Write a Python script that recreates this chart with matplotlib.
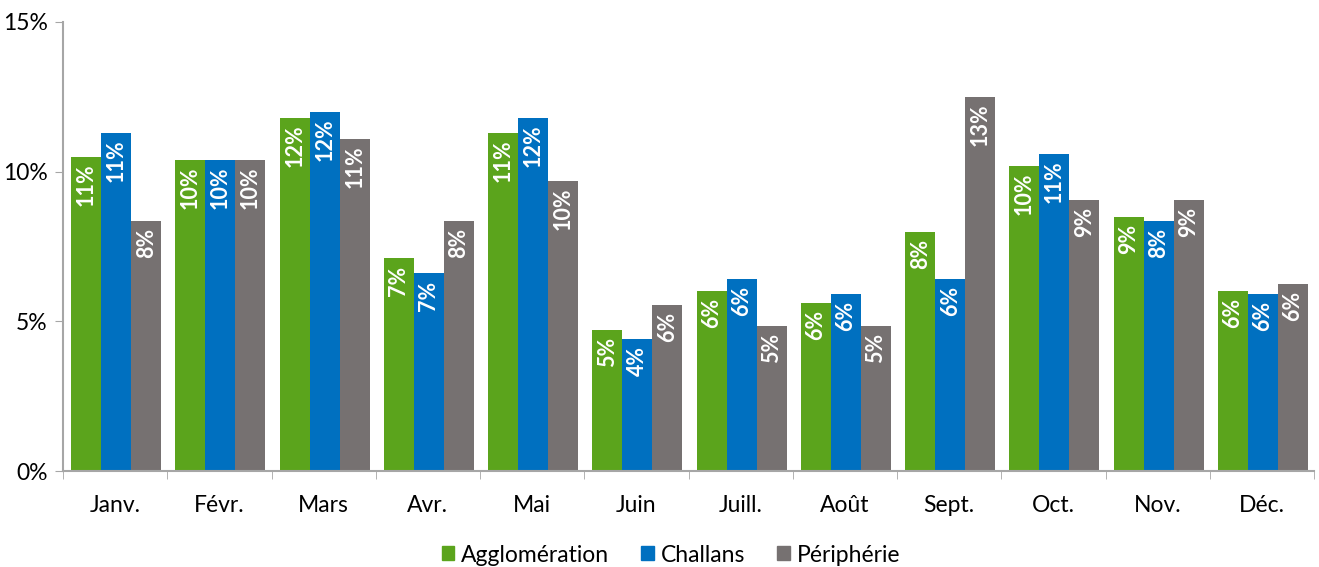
import numpy as np
import matplotlib.pyplot as plt
from matplotlib.patches import Patch

plt.rcParams['font.family'] = ['Lato', 'DejaVu Sans']

months = ["Janv.", "Févr.", "Mars", "Avr.", "Mai", "Juin", "Juill.", "Août", "Sept.", "Oct.", "Nov.", "Déc."]
agglo = [10.5, 10.4, 11.8, 7.1, 11.3, 4.7, 6.0, 5.6, 8.0, 10.2, 8.5, 6.0]
challans = [11.3, 10.4, 12.0, 6.6, 11.8, 4.4, 6.4, 5.9, 6.4, 10.6, 8.35, 5.9]
periph = [8.35, 10.4, 11.1, 8.35, 9.7, 5.55, 4.85, 4.85, 12.5, 9.05, 9.05, 6.25]
# labels as printed on the chart
agglo_lbl = ["11%", "10%", "12%", "7%", "11%", "5%", "6%", "6%", "8%", "10%", "9%", "6%"]
challans_lbl = ["11%", "10%", "12%", "7%", "12%", "4%", "6%", "6%", "6%", "11%", "8%", "6%"]
periph_lbl = ["8%", "10%", "11%", "8%", "10%", "6%", "5%", "5%", "13%", "9%", "9%", "6%"]

series = [("Agglomération", agglo, agglo_lbl, "#5BA41C"),
          ("Challans", challans, challans_lbl, "#0070C0"),
          ("Périphérie", periph, periph_lbl, "#767171")]

fig = plt.figure(figsize=(13.19, 5.67), dpi=100)
ax = fig.add_axes([63/1319, 1 - 471/567, (1314 - 63)/1319, (471 - 22)/567])

x = np.arange(len(months))
w = 0.288
for i, (name, vals, lbls, col) in enumerate(series):
    pos = x + (i - 1) * w + 0.01
    ax.bar(pos, vals, width=w, color=col, label=name)
    for px, v, l in zip(pos, vals, lbls):
        ax.annotate(l, (px, v), xytext=(0, -5), textcoords="offset points",
                    rotation=90, ha="center", va="top", color="white",
                    fontsize=15.5, fontweight="bold")

ax.set_xlim(-0.5, 11.5)
ax.set_ylim(0, 15)
ax.set_yticks([0, 5, 10, 15])
ax.set_yticklabels(["0%", "5%", "10%", "15%"], fontsize=16.5)
ax.set_xticks(x)
ax.set_xticklabels(months, fontsize=16.5)
ax.set_xticks(np.arange(-0.5, 12, 1), minor=True)
ax.tick_params(axis="x", which="major", length=0, pad=17)
ax.tick_params(axis="x", which="minor", length=6, color="#A6A6A6")
ax.tick_params(axis="y", length=6, color="#A6A6A6", pad=5)
for s in ["top", "right"]:
    ax.spines[s].set_visible(False)
for s in ["left", "bottom"]:
    ax.spines[s].set_color("#A6A6A6")
    ax.spines[s].set_linewidth(1.5)

handles = [Patch(color=c) for _, _, _, c in series]
fig.legend(handles, [s[0] for s in series], loc="center", bbox_to_anchor=(671/1319, 1 - 555/567),
           ncol=3, frameon=False, fontsize=16.5, handlelength=0.55, handleheight=0.55,
           handletextpad=0.3, columnspacing=1.4)

fig.savefig("out.png", dpi=100)
